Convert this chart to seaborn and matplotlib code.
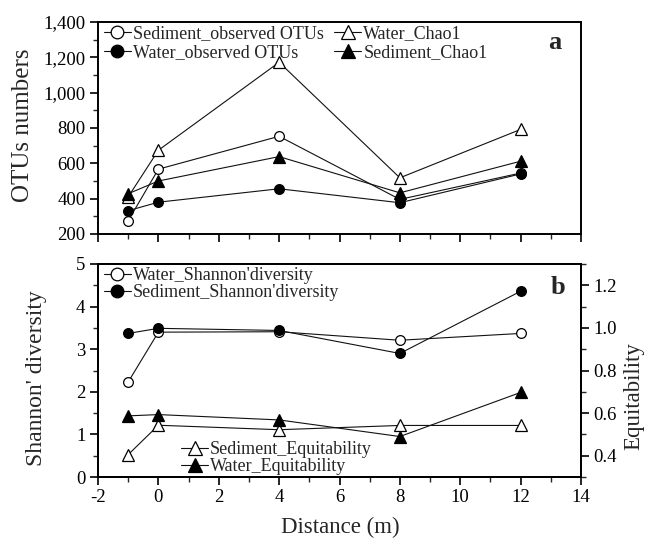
import numpy as np
import pandas as pd
import seaborn as sns
import matplotlib
matplotlib.use("Agg")
import matplotlib.pyplot as plt
from matplotlib.ticker import MultipleLocator, FuncFormatter

sns.set_style("ticks")
plt.rcParams['font.family'] = ['Liberation Serif', 'DejaVu Serif']
plt.rcParams['axes.unicode_minus'] = False

# distance along the transect (m)
distance = [-1, 0, 4, 8, 12]

# panel a: OTU richness
sed_obs = [275, 567, 753, 396, 545]
water_obs = [332, 380, 456, 377, 540]
water_chao1 = [410, 674, 1172, 518, 792]
sed_chao1 = [428, 500, 638, 433, 612]

# panel b: diversity (left) and equitability (right)
water_shannon = [2.23, 3.40, 3.41, 3.21, 3.37]
sed_shannon = [3.37, 3.49, 3.44, 2.90, 4.36]
sed_equit = [0.405, 0.543, 0.522, 0.542, 0.542]
water_equit = [0.587, 0.593, 0.568, 0.490, 0.697]

W, H = 650, 546
fig = plt.figure(figsize=(6.5, 5.46), dpi=100)

def px_axes(l, t, r, b):
    return fig.add_axes([l / W, 1 - b / H, (r - l) / W, (b - t) / H])

ax1 = px_axes(98, 22, 581, 234)
ax2 = px_axes(98, 264, 581, 477)

LW = 0.8
TICK = 13.5


def draw(ax, y, label, marker, filled, ms):
    df = pd.DataFrame({'x': distance, 'y': y})
    sns.lineplot(data=df, x='x', y='y', ax=ax, color='#111111', linewidth=LW,
                 marker=marker, markersize=ms,
                 markerfacecolor='black' if filled else 'white',
                 markeredgecolor='black', markeredgewidth=0.9,
                 label=label, clip_on=False)


def style(ax, major_y, minor_y):
    for s in ax.spines.values():
        s.set_linewidth(1.4)
        s.set_color('black')
    ax.tick_params(which='major', direction='out', length=6, width=1.2,
                   labelsize=TICK, colors='black', pad=3)
    ax.tick_params(which='minor', direction='out', length=3.5, width=1.0)
    ax.yaxis.set_major_locator(MultipleLocator(major_y))
    ax.yaxis.set_minor_locator(MultipleLocator(minor_y))
    ax.set_xlabel('')
    ax.set_ylabel('')


# ---- panel a
draw(ax1, sed_obs, 'Sediment_observed OTUs', 'o', False, 7)
draw(ax1, water_obs, 'Water_observed OTUs', 'o', True, 7)
draw(ax1, water_chao1, 'Water_Chao1', '^', False, 8)
draw(ax1, sed_chao1, 'Sediment_Chao1', '^', True, 8)
ax1.set_xlim(-2, 14)
ax1.set_ylim(200, 1400)
style(ax1, 200, 100)
ax1.xaxis.set_major_locator(MultipleLocator(2))
ax1.xaxis.set_minor_locator(MultipleLocator(1))
ax1.tick_params(axis='x', labelbottom=False)
ax1.yaxis.set_major_formatter(FuncFormatter(lambda v, p: f'{v:,.0f}'))
h, l = ax1.get_legend_handles_labels()
ax1.legend(h, l, ncol=2, loc='upper left', bbox_to_anchor=(0.012, 0.985),
           frameon=False, fontsize=13, handlelength=1.5, handletextpad=0.1,
           columnspacing=0.6, labelspacing=0.1, borderpad=0, borderaxespad=0,
           markerscale=1.3)
ax1.text(0.946, 0.905, 'a', transform=ax1.transAxes, fontsize=19,
         fontweight='bold', ha='center', va='center')

# ---- panel b
draw(ax2, water_shannon, "Water_Shannon'diversity", 'o', False, 7)
draw(ax2, sed_shannon, "Sediment_Shannon'diversity", 'o', True, 7)
ax2.set_xlim(-2, 14)
ax2.set_ylim(0, 5)
style(ax2, 1, 0.5)
ax2.xaxis.set_major_locator(MultipleLocator(2))
ax2.xaxis.set_minor_locator(MultipleLocator(1))
h, l = ax2.get_legend_handles_labels()
ax2.legend(h, l, loc='upper left', bbox_to_anchor=(0.012, 0.985),
           frameon=False, fontsize=13, handlelength=1.5, handletextpad=0.1,
           labelspacing=0.0, borderpad=0, borderaxespad=0, markerscale=1.3)

ax3 = ax2.twinx()
draw(ax3, sed_equit, 'Sediment_Equitability', '^', False, 8)
draw(ax3, water_equit, 'Water_Equitability', '^', True, 8)
ax3.set_ylim(0.3, 1.3)
style(ax3, 0.2, 0.1)
ax3.set_yticks([0.4, 0.6, 0.8, 1.0, 1.2])
ax3.yaxis.set_major_formatter(FuncFormatter(lambda v, p: f'{v:.1f}'))
h, l = ax3.get_legend_handles_labels()
ax3.legend(h, l, loc='lower left', bbox_to_anchor=(0.172, 0.01),
           frameon=False, fontsize=13, handlelength=1.5, handletextpad=0.1,
           labelspacing=0.0, borderpad=0, borderaxespad=0, markerscale=1.3)
ax3.text(0.952, 0.892, 'b', transform=ax3.transAxes, fontsize=19,
         fontweight='bold', ha='center', va='center')

# axis titles
fig.text(23 / W, 1 - 125 / H, 'OTUs numbers', rotation=90, fontsize=18,
         ha='center', va='center')
fig.text(37 / W, 1 - 378 / H, "Shannon' diversity", rotation=90, fontsize=17,
         ha='center', va='center')
fig.text(634 / W, 1 - 396 / H, 'Equitability', rotation=90, fontsize=16.5,
         ha='center', va='center')
fig.text(340 / W, 1 - 527 / H, 'Distance (m)', fontsize=16.5,
         ha='center', va='center')

fig.savefig('out.png', dpi=100, facecolor='white')
